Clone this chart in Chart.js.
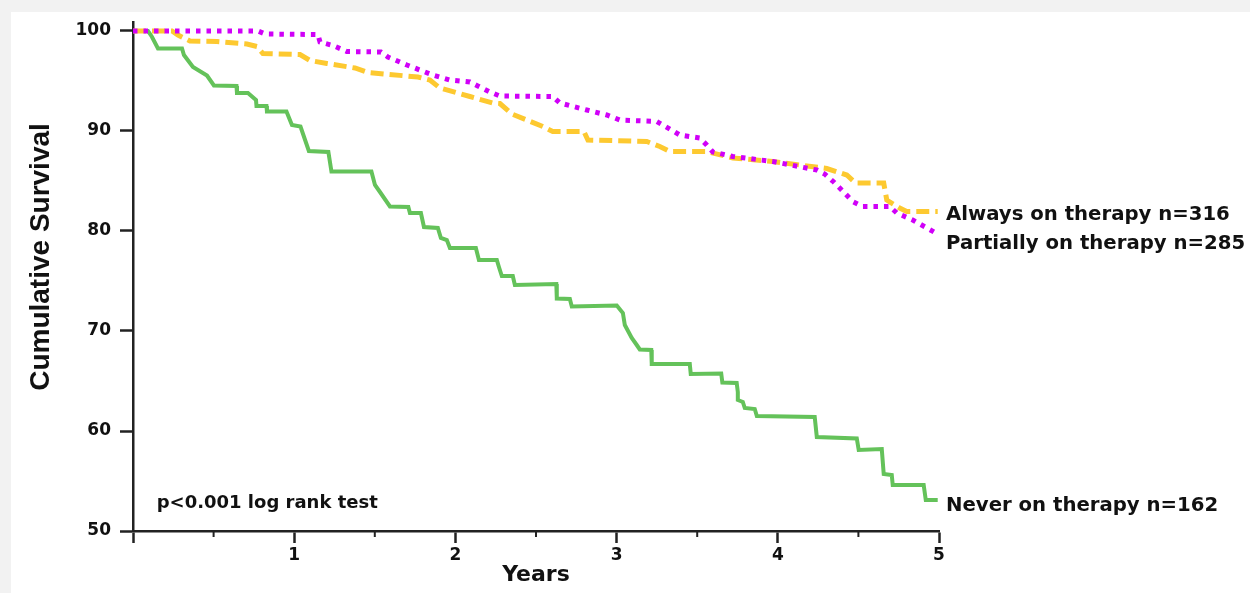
<!DOCTYPE html>
<html>
<head>
<meta charset="utf-8">
<script src="https://cdn.jsdelivr.net/npm/chart.js@4.4.1/dist/chart.umd.min.js"></script>
<style>
  html, body { margin:0; padding:0; background:#f2f2f2; }
  #panel { position:absolute; left:11px; top:12px; width:1239px; height:581px; background:#ffffff; }
  #wrap { position:absolute; left:0; top:0; width:1250px; height:593px; }
</style>
</head>
<body>
<div id="panel"></div>
<div id="wrap"><canvas id="c" width="1250" height="593"></canvas></div>
<script>
// ---------- DATA ----------
const seriesNames = ["Partially on therapy n=285", "Always on therapy n=316", "Never on therapy n=162"];

const partiallyYears = [0, 0.775, 0.819, 1.147, 1.160, 1.240, 1.327, 1.538, 1.581, 1.699, 1.860, 1.966, 2.090, 2.139, 2.214, 2.276, 2.604, 2.648, 2.815, 2.939, 3.020, 3.249, 3.287, 3.392, 3.516, 3.559, 3.597, 3.721, 3.969, 4.242, 4.291, 4.347, 4.465, 4.527, 4.694, 4.738, 4.837, 4.980];
const partiallySurv  = [100, 100, 99.7, 99.65, 98.9, 98.55, 97.95, 97.9, 97.4, 96.6, 95.6, 95.1, 94.9, 94.5, 93.9, 93.5, 93.45, 92.8, 92.1, 91.6, 91.1, 90.95, 90.6, 89.6, 89.3, 88.6, 87.9, 87.45, 86.95, 86.1, 85.7, 84.9, 82.95, 82.45, 82.45, 81.8, 81.1, 79.8];

const alwaysYears = [0, 0.242, 0.279, 0.353, 0.521, 0.707, 0.769, 0.806, 1.036, 1.098, 1.203, 1.377, 1.457, 1.767, 1.842, 1.904, 2.090, 2.232, 2.276, 2.350, 2.542, 2.604, 2.797, 2.822, 3.187, 3.268, 3.330, 3.559, 3.721, 3.969, 4.304, 4.428, 4.483, 4.657, 4.676, 4.756, 4.800, 4.992];
const alwaysSurv  = [100, 100, 99.6, 99.0, 98.95, 98.7, 98.45, 97.75, 97.65, 97.05, 96.75, 96.3, 95.85, 95.4, 95.1, 94.3, 93.45, 92.8, 92.75, 91.7, 90.45, 89.95, 89.95, 89.1, 88.95, 88.45, 87.95, 87.95, 87.3, 86.95, 86.25, 85.6, 84.8, 84.8, 83.1, 82.3, 81.95, 81.95];

const neverYears = [0, 0.093, 0.118, 0.155, 0.304, 0.316, 0.372, 0.459, 0.502, 0.642, 0.645, 0.713, 0.763, 0.766, 0.828, 0.831, 0.952, 0.986, 1.039, 1.091, 1.212, 1.231, 1.479, 1.501, 1.532, 1.594, 1.708, 1.718, 1.786, 1.805, 1.891, 1.910, 1.947, 1.966, 2.127, 2.146, 2.257, 2.270, 2.288, 2.356, 2.369, 2.626, 2.629, 2.710, 2.722, 3.001, 3.039, 3.051, 3.094, 3.125, 3.144, 3.215, 3.218, 3.454, 3.460, 3.649, 3.656, 3.745, 3.752, 3.752, 3.783, 3.795, 3.857, 3.870, 4.229, 4.242, 4.490, 4.502, 4.645, 4.657, 4.707, 4.713, 4.905, 4.918, 4.992];
const neverSurv  = [100, 100, 99.4, 98.25, 98.25, 97.6, 96.4, 95.55, 94.55, 94.5, 93.8, 93.8, 93.1, 92.5, 92.5, 91.95, 91.95, 90.6, 90.45, 88.0, 87.9, 85.95, 85.95, 84.6, 83.9, 82.45, 82.4, 81.8, 81.8, 80.4, 80.3, 79.3, 79.1, 78.3, 78.3, 77.1, 77.1, 76.4, 75.5, 75.5, 74.6, 74.7, 73.25, 73.2, 72.45, 72.55, 71.8, 70.6, 69.3, 68.6, 68.15, 68.1, 66.7, 66.7, 65.7, 65.75, 64.85, 64.8, 63.9, 63.1, 62.9, 62.3, 62.2, 61.5, 61.4, 59.4, 59.25, 58.1, 58.2, 55.7, 55.6, 54.6, 54.6, 53.1, 53.1];

const xTickValues = [0, 0.5, 1, 1.5, 2, 2.5, 3, 3.5, 4, 4.5, 5];
const xMinorTicks = [0.5, 1.5, 2.5, 3.5, 4.5];
const yTickValues = [50, 60, 70, 80, 90, 100];
const xTitle = "Years";
const yTitle = "Cumulative Survival";
const noteText = "p<0.001 log rank test";

// ---------- helpers ----------
const pairs = (xs, ys) => xs.map((x, i) => ({ x: x, y: ys[i] }));
const TEXT = '#111111';
const AXIS = '#222222';
const hFont = '"DejaVu Sans", "Liberation Sans", Arial, sans-serif';

const overlay = {
  id: 'overlay',
  afterDraw(chart) {
    const { ctx, scales: { x, y } } = chart;
    ctx.save();
    // minor x ticks
    ctx.strokeStyle = AXIS;
    ctx.lineWidth = 2;
    xMinorTicks.forEach(v => {
      const px = x.getPixelForValue(v);
      ctx.beginPath();
      ctx.moveTo(px, y.bottom);
      ctx.lineTo(px, y.bottom + 6);
      ctx.stroke();
    });
    // y axis title
    ctx.fillStyle = TEXT;
    ctx.save();
    ctx.translate(49, y.getPixelForValue(77.4));
    ctx.rotate(-Math.PI / 2);
    ctx.font = 'bold 28px "Liberation Sans", Arial, sans-serif';
    ctx.textAlign = 'center';
    ctx.textBaseline = 'alphabetic';
    ctx.fillText(yTitle, 0, 0);
    ctx.restore();
    // series end labels
    ctx.font = 'bold 19.7px ' + hFont;
    ctx.textAlign = 'left';
    ctx.textBaseline = 'alphabetic';
    const lx = x.right + 7;
    const labelAnchors = [[seriesNames[1], 81.85], [seriesNames[0], 78.95], [seriesNames[2], 52.7]];
    labelAnchors.forEach(([t, v]) => {
      ctx.fillText(t, lx, y.getPixelForValue(v) + 7.2);
    });
    // note
    ctx.font = 'bold 18px ' + hFont;
    ctx.fillText(noteText, x.getPixelForValue(0.147), y.getPixelForValue(52.3));
    ctx.restore();
  }
};

new Chart(document.getElementById('c'), {
  type: 'line',
  data: {
    datasets: [
      {
        label: seriesNames[0],
        data: pairs(partiallyYears, partiallySurv),
        borderColor: '#d000f8',
        borderWidth: 5,
        borderDash: [4.5, 6],
        borderCapStyle: 'butt',
        pointRadius: 0,
        tension: 0,
        fill: false
      },
      {
        label: seriesNames[1],
        data: pairs(alwaysYears, alwaysSurv),
        borderColor: '#fdc930',
        borderWidth: 5,
        borderDash: [13, 6],
        borderCapStyle: 'butt',
        pointRadius: 0,
        tension: 0,
        fill: false
      },
      {
        label: seriesNames[2],
        data: pairs(neverYears, neverSurv),
        borderColor: '#64c25a',
        borderWidth: 4,
        pointRadius: 0,
        tension: 0,
        fill: false
      }
    ]
  },
  options: {
    responsive: false,
    animation: false,
    devicePixelRatio: 1,
    layout: { padding: { left: 0, top: 22.5, right: 311, bottom: 0 } },
    plugins: { legend: { display: false }, tooltip: { enabled: false } },
    scales: {
      x: {
        type: 'linear',
        min: 0,
        max: 5,
        afterBuildTicks: s => { s.ticks = xTickValues.map(v => ({ value: v })); },
        afterFit: s => { s.height = 62; },
        grid: {
          display: true,
          drawOnChartArea: false,
          drawTicks: true,
          tickLength: 12,
          tickWidth: 2.5,
          tickColor: c => (c.tick && Number.isInteger(c.tick.value)) ? AXIS : 'rgba(0,0,0,0)'
        },
        border: { display: true, color: AXIS, width: 2.5 },
        ticks: {
          autoSkip: false,
          maxRotation: 0,
          padding: 2,
          color: TEXT,
          font: { family: hFont, size: 17, weight: 'bold' },
          callback: v => (Number.isInteger(v) && v > 0) ? String(v) : ''
        },
        title: {
          display: true,
          text: xTitle,
          color: TEXT,
          font: { family: hFont, size: 22, weight: 'bold' },
          padding: { top: 0, bottom: 5 }
        }
      },
      y: {
        type: 'linear',
        min: 50,
        max: 100.85,
        afterBuildTicks: s => { s.ticks = yTickValues.map(v => ({ value: v })); },
        afterFit: s => { s.width = 133; },
        grid: {
          display: true,
          drawOnChartArea: false,
          drawTicks: true,
          tickLength: 13,
          tickWidth: 2.5,
          tickColor: AXIS
        },
        border: { display: true, color: AXIS, width: 2.5 },
        ticks: {
          padding: 9,
          color: TEXT,
          font: { family: hFont, size: 17, weight: 'bold' },
          callback: v => String(v)
        },
        title: { display: false }
      }
    }
  },
  plugins: [overlay]
});
</script>
</body>
</html>
